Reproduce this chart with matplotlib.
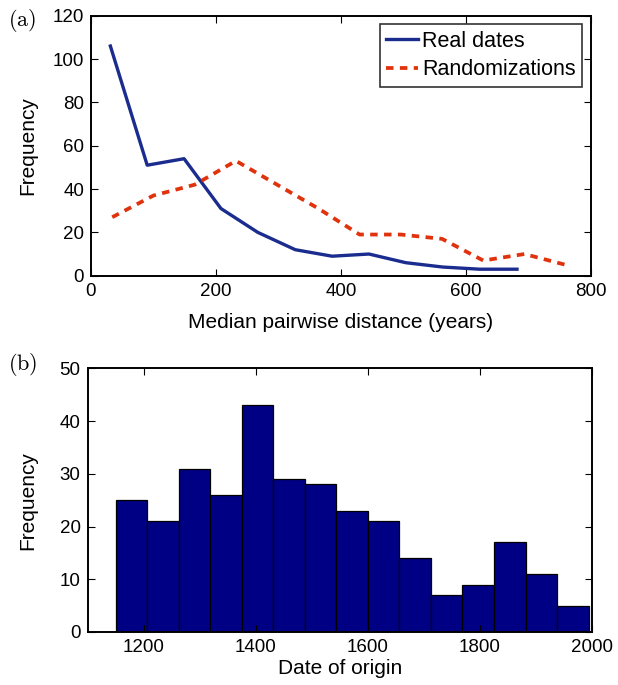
import numpy as np
import matplotlib; matplotlib.use("Agg")
import matplotlib.pyplot as plt

# panel (a): frequency vs median pairwise distance
real_x = [31, 90, 149, 208, 267, 327, 386, 445, 504, 563, 622, 682]
real_y = [106, 51, 54, 31, 20, 12, 9, 10, 6, 4, 3, 3]
rand_x = [34, 100, 166, 232, 298, 364, 430, 496, 562, 628, 694, 760]
rand_y = [27, 37, 42, 53, 42, 31, 19, 19, 17, 7, 10, 5]

# panel (b): histogram of dates of origin
bin_lo, bin_hi = 1150, 1994
counts = [25, 21, 31, 26, 43, 29, 28, 23, 21, 14, 7, 9, 17, 11, 5]

plt.rcParams["font.family"] = ["Liberation Sans", "DejaVu Sans"]
plt.rcParams["mathtext.fontset"] = "cm"

W, H = 618, 685
fig = plt.figure(figsize=(W / 100, H / 100), dpi=100)
ax1 = fig.add_axes([91 / W, 1 - 275.7 / H, 499.7 / W, 260 / H])
ax2 = fig.add_axes([87.5 / W, 1 - 632 / H, 504.5 / W, 263.7 / H])

BLUE = "#1b2c8f"; RED = "#e0320c"; NAVY = "#000084"

ax1.plot(real_x, real_y, color=BLUE, lw=2.4, label="Real dates")
ax1.plot(rand_x, rand_y, color=RED, lw=2.7, ls=(0, (2.0, 1.7)), label="Randomizations")
ax1.set_xlim(0, 800); ax1.set_ylim(0, 120)
ax1.set_xticks([0, 200, 400, 600, 800]); ax1.set_yticks(range(0, 121, 20))
ax1.set_xlabel("Median pairwise distance (years)", fontsize=15)
ax1.set_ylabel("Frequency", fontsize=15)
ax1.xaxis.set_label_coords(0.5, (275.7 - 322) / 260)
ax1.yaxis.set_label_coords((28 - 91) / 499.7, 0.5)
ax1.xaxis.label.set_va("center"); ax1.yaxis.label.set_va("center")
leg = ax1.legend(loc="upper right", fontsize=15.5, frameon=True, fancybox=False,
                 edgecolor="black", handlelength=1.45, handletextpad=0.2,
                 borderpad=0.3, labelspacing=0.35, borderaxespad=0.4)
leg.get_frame().set_linewidth(1.2)

edges = np.linspace(bin_lo, bin_hi, len(counts) + 1)
ax2.bar(edges[:-1], counts, width=np.diff(edges), align="edge",
        color=NAVY, edgecolor="black", linewidth=0.9)
ax2.set_xlim(1100, 2000); ax2.set_ylim(0, 50)
ax2.set_xticks(range(1200, 2001, 200)); ax2.set_yticks(range(0, 51, 10))
ax2.set_xlabel("Date of origin", fontsize=15)
ax2.set_ylabel("Frequency", fontsize=15)
ax2.xaxis.set_label_coords(0.5, (632 - 668) / 263.7)
ax2.yaxis.set_label_coords((28 - 87.5) / 504.5, 0.5)
ax2.xaxis.label.set_va("center"); ax2.yaxis.label.set_va("center")

for ax in (ax1, ax2):
    for s in ax.spines.values():
        s.set_linewidth(1.4)
    ax.tick_params(direction="in", length=5, width=0.8, labelsize=13.5,
                   top=True, right=True, pad=5)

fig.text(8 / W, 1 - 21 / H, r"$\mathrm{(a)}$", fontsize=16, va="center", ha="left")
fig.text(8 / W, 1 - 365 / H, r"$\mathrm{(b)}$", fontsize=16, va="center", ha="left")

fig.savefig("out.png", dpi=100)
